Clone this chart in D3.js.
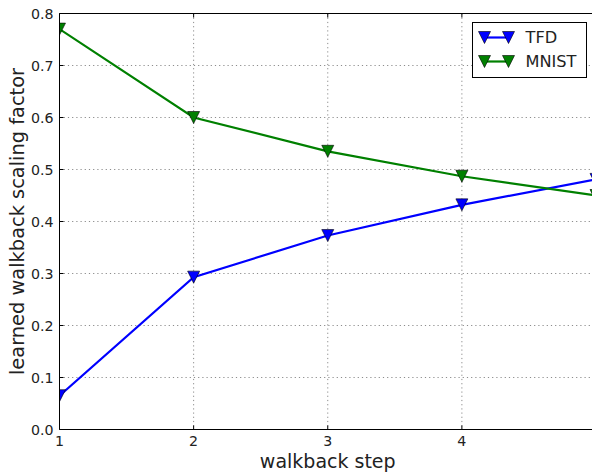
<!DOCTYPE html>
<html>
<head>
<meta charset="utf-8">
<script src="https://cdn.jsdelivr.net/npm/d3@7"></script>
<style>
  body { margin: 0; background: white; }
  svg { display: block; font-family: "DejaVu Sans", sans-serif; }
</style>
</head>
<body>
<div id="chart"></div>
<script>
// data
const steps = [1, 2, 3, 4, 5];
const tfd = [0.065, 0.293, 0.373, 0.432, 0.481];
const mnist = [0.770, 0.600, 0.535, 0.487, 0.450];
const seriesNames = ['TFD', 'MNIST'];
const seriesColors = ['#0000ff', '#008000'];
const xTicks = [1, 2, 3, 4];
const yTicks = [0.0, 0.1, 0.2, 0.3, 0.4, 0.5, 0.6, 0.7, 0.8];

const W = 592, H = 472;
const margin = { top: 13.5, right: -4, bottom: 42.5, left: 59.5 };
const width = W - margin.left - margin.right;
const height = H - margin.top - margin.bottom;

const svg = d3.select('#chart').append('svg')
    .attr('width', W)
    .attr('height', H);

const x = d3.scaleLinear().domain([1, 5]).range([0, width]);
const y = d3.scaleLinear().domain([0, 0.8]).range([height, 0]);

const g = svg.append('g')
    .attr('transform', 'translate(' + margin.left + ',' + margin.top + ')');

g.append('clipPath').attr('id', 'plotclip')
  .append('rect').attr('width', width).attr('height', height);

// grid
g.append('g').selectAll('line.gx')
  .data(xTicks.slice(1))
  .enter().append('line')
    .attr('x1', d => x(d)).attr('x2', d => x(d))
    .attr('y1', 0).attr('y2', height)
    .attr('stroke', '#8c8c8c').attr('stroke-width', 1)
    .attr('stroke-dasharray', '1.2,3');
g.append('g').selectAll('line.gy')
  .data(yTicks.slice(1, -1))
  .enter().append('line')
    .attr('x1', 0).attr('x2', width)
    .attr('y1', d => y(d)).attr('y2', d => y(d))
    .attr('stroke', '#8c8c8c').attr('stroke-width', 1)
    .attr('stroke-dasharray', '1.2,3');

// inward ticks
g.append('g').selectAll('line')
  .data(xTicks)
  .enter().append('line')
    .attr('x1', d => x(d)).attr('x2', d => x(d))
    .attr('y1', height).attr('y2', height - 4)
    .attr('stroke', '#000');
g.append('g').selectAll('line')
  .data(xTicks)
  .enter().append('line')
    .attr('x1', d => x(d)).attr('x2', d => x(d))
    .attr('y1', 0).attr('y2', 4)
    .attr('stroke', '#000');
g.append('g').selectAll('line')
  .data(yTicks)
  .enter().append('line')
    .attr('x1', 0).attr('x2', 4)
    .attr('y1', d => y(d)).attr('y2', d => y(d))
    .attr('stroke', '#000');

// tick labels
g.append('g').selectAll('text')
  .data(xTicks)
  .enter().append('text')
    .attr('x', d => x(d))
    .attr('y', height + 16)
    .attr('text-anchor', 'middle')
    .attr('font-size', 14.2)
    .attr('fill', '#222')
    .text(d => d);
g.append('g').selectAll('text')
  .data(yTicks)
  .enter().append('text')
    .attr('x', -6)
    .attr('y', d => y(d))
    .attr('dy', '0.36em')
    .attr('text-anchor', 'end')
    .attr('font-size', 14.2)
    .attr('fill', '#222')
    .text(d => d.toFixed(1));

// lines + markers
const line = d3.line()
    .x((d, i) => x(steps[i]))
    .y(d => y(d));

const tri = s => 'M' + (-s / 2) + ',' + (-s / 2) + 'L' + (s / 2) + ',' + (-s / 2) + 'L0,' + (s / 2) + 'Z';

const plot = g.append('g').attr('clip-path', 'url(#plotclip)');
[tfd, mnist].forEach((vals, k) => {
  plot.append('path')
    .datum(vals)
    .attr('d', line)
    .attr('fill', 'none')
    .attr('stroke', seriesColors[k])
    .attr('stroke-width', 2.2);
  plot.append('g').selectAll('path')
    .data(vals)
    .enter().append('path')
      .attr('transform', (d, i) => 'translate(' + x(steps[i]) + ',' + y(d) + ')')
      .attr('d', tri(12))
      .attr('fill', seriesColors[k])
      .attr('stroke', '#000')
      .attr('stroke-width', 0.6);
});

// spines
g.append('line').attr('x1', 0).attr('x2', width).attr('y1', 0).attr('y2', 0).attr('stroke', '#000');
g.append('line').attr('x1', 0).attr('x2', width).attr('y1', height).attr('y2', height).attr('stroke', '#000');
g.append('line').attr('x1', 0).attr('x2', 0).attr('y1', 0).attr('y2', height).attr('stroke', '#000');

// axis labels
svg.append('text')
    .attr('x', margin.left + width / 2)
    .attr('y', 467.5)
    .attr('text-anchor', 'middle')
    .attr('font-size', 19)
    .attr('fill', '#222')
    .text('walkback step');
svg.append('text')
    .attr('transform', 'translate(23.5,' + (margin.top + height / 2) + ') rotate(-90)')
    .attr('text-anchor', 'middle')
    .attr('font-size', 19.4)
    .attr('fill', '#222')
    .text('learned walkback scaling factor');

// legend
const legend = svg.append('g').attr('transform', 'translate(472.5,22.5)');
legend.append('rect')
    .attr('width', 114).attr('height', 55)
    .attr('fill', '#fff').attr('stroke', '#000');
seriesNames.forEach((name, k) => {
  const row = legend.append('g').attr('transform', 'translate(0,' + (15 + k * 24) + ')');
  row.append('line')
    .attr('x1', 12).attr('x2', 36)
    .attr('stroke', seriesColors[k]).attr('stroke-width', 2.2);
  [12, 36].forEach(px => {
    row.append('path')
      .attr('transform', 'translate(' + px + ',0)')
      .attr('d', tri(12))
      .attr('fill', seriesColors[k])
      .attr('stroke', '#000')
      .attr('stroke-width', 0.6);
  });
  row.append('text')
    .attr('x', 53)
    .attr('y', 0)
    .attr('dy', '0.36em')
    .attr('font-size', 16.2)
    .attr('fill', '#222')
    .text(name);
});
</script>
</body>
</html>
